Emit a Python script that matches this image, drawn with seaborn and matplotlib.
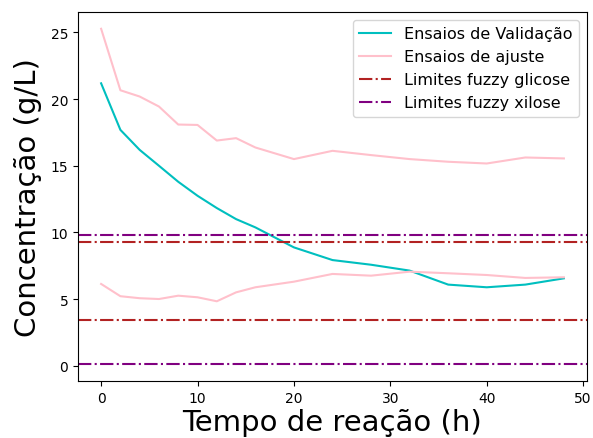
import matplotlib
matplotlib.use("Agg")
import matplotlib.pyplot as plt
import seaborn as sns
import pandas as pd

tempo = [0, 2, 4, 6, 8, 10, 12, 14, 16, 20, 24, 28, 32, 36, 40, 44, 48]
validacao = [21.18, 17.69, 16.19, 15.0, 13.8, 12.75, 11.83, 11.0, 10.38, 8.88,
             7.93, 7.58, 7.14, 6.09, 5.89, 6.09, 6.56]
ajuste_sup = [25.27, 20.66, 20.19, 19.44, 18.09, 18.06, 16.89, 17.07, 16.37, 15.5,
              16.12, 15.8, 15.5, 15.3, 15.17, 15.62, 15.55]
ajuste_inf = [6.14, 5.22, 5.07, 5.01, 5.26, 5.14, 4.84, 5.51, 5.89, 6.31,
              6.89, 6.76, 7.06, 6.94, 6.81, 6.59, 6.64]
lim_glicose = [9.26, 3.44]
lim_xilose = [9.8, 0.12]

df = pd.DataFrame({"t": tempo, "val": validacao, "sup": ajuste_sup, "inf": ajuste_inf})

fig = plt.figure(figsize=(5.93, 4.39), dpi=100)
ax = fig.add_subplot(111)
fig.subplots_adjust(left=0.1315, right=0.9899, top=0.9704, bottom=0.1298)

sns.lineplot(data=df, x="t", y="val", color="c", lw=1.5, ax=ax, label="Ensaios de Validação")
sns.lineplot(data=df, x="t", y="sup", color="pink", lw=1.5, ax=ax, label="Ensaios de ajuste")
sns.lineplot(data=df, x="t", y="inf", color="pink", lw=1.5, ax=ax)
for i, v in enumerate(lim_glicose):
    ax.axhline(v, color="firebrick", ls="-.", lw=1.5, label="Limites fuzzy glicose" if i == 0 else None)
for i, v in enumerate(lim_xilose):
    ax.axhline(v, color="purple", ls="-.", lw=1.5, label="Limites fuzzy xilose" if i == 0 else None)

ax.set_xlabel("Tempo de reação (h)", fontsize=21, labelpad=2)
ax.set_ylabel("Concentração (g/L)", fontsize=21, labelpad=6)
ax.set_xticks([0, 10, 20, 30, 40, 50])
ax.set_yticks([0, 5, 10, 15, 20, 25])
ax.tick_params(labelsize=10)
ax.legend(loc="upper right", fontsize=11.5)

fig.savefig("out.png", dpi=100)
